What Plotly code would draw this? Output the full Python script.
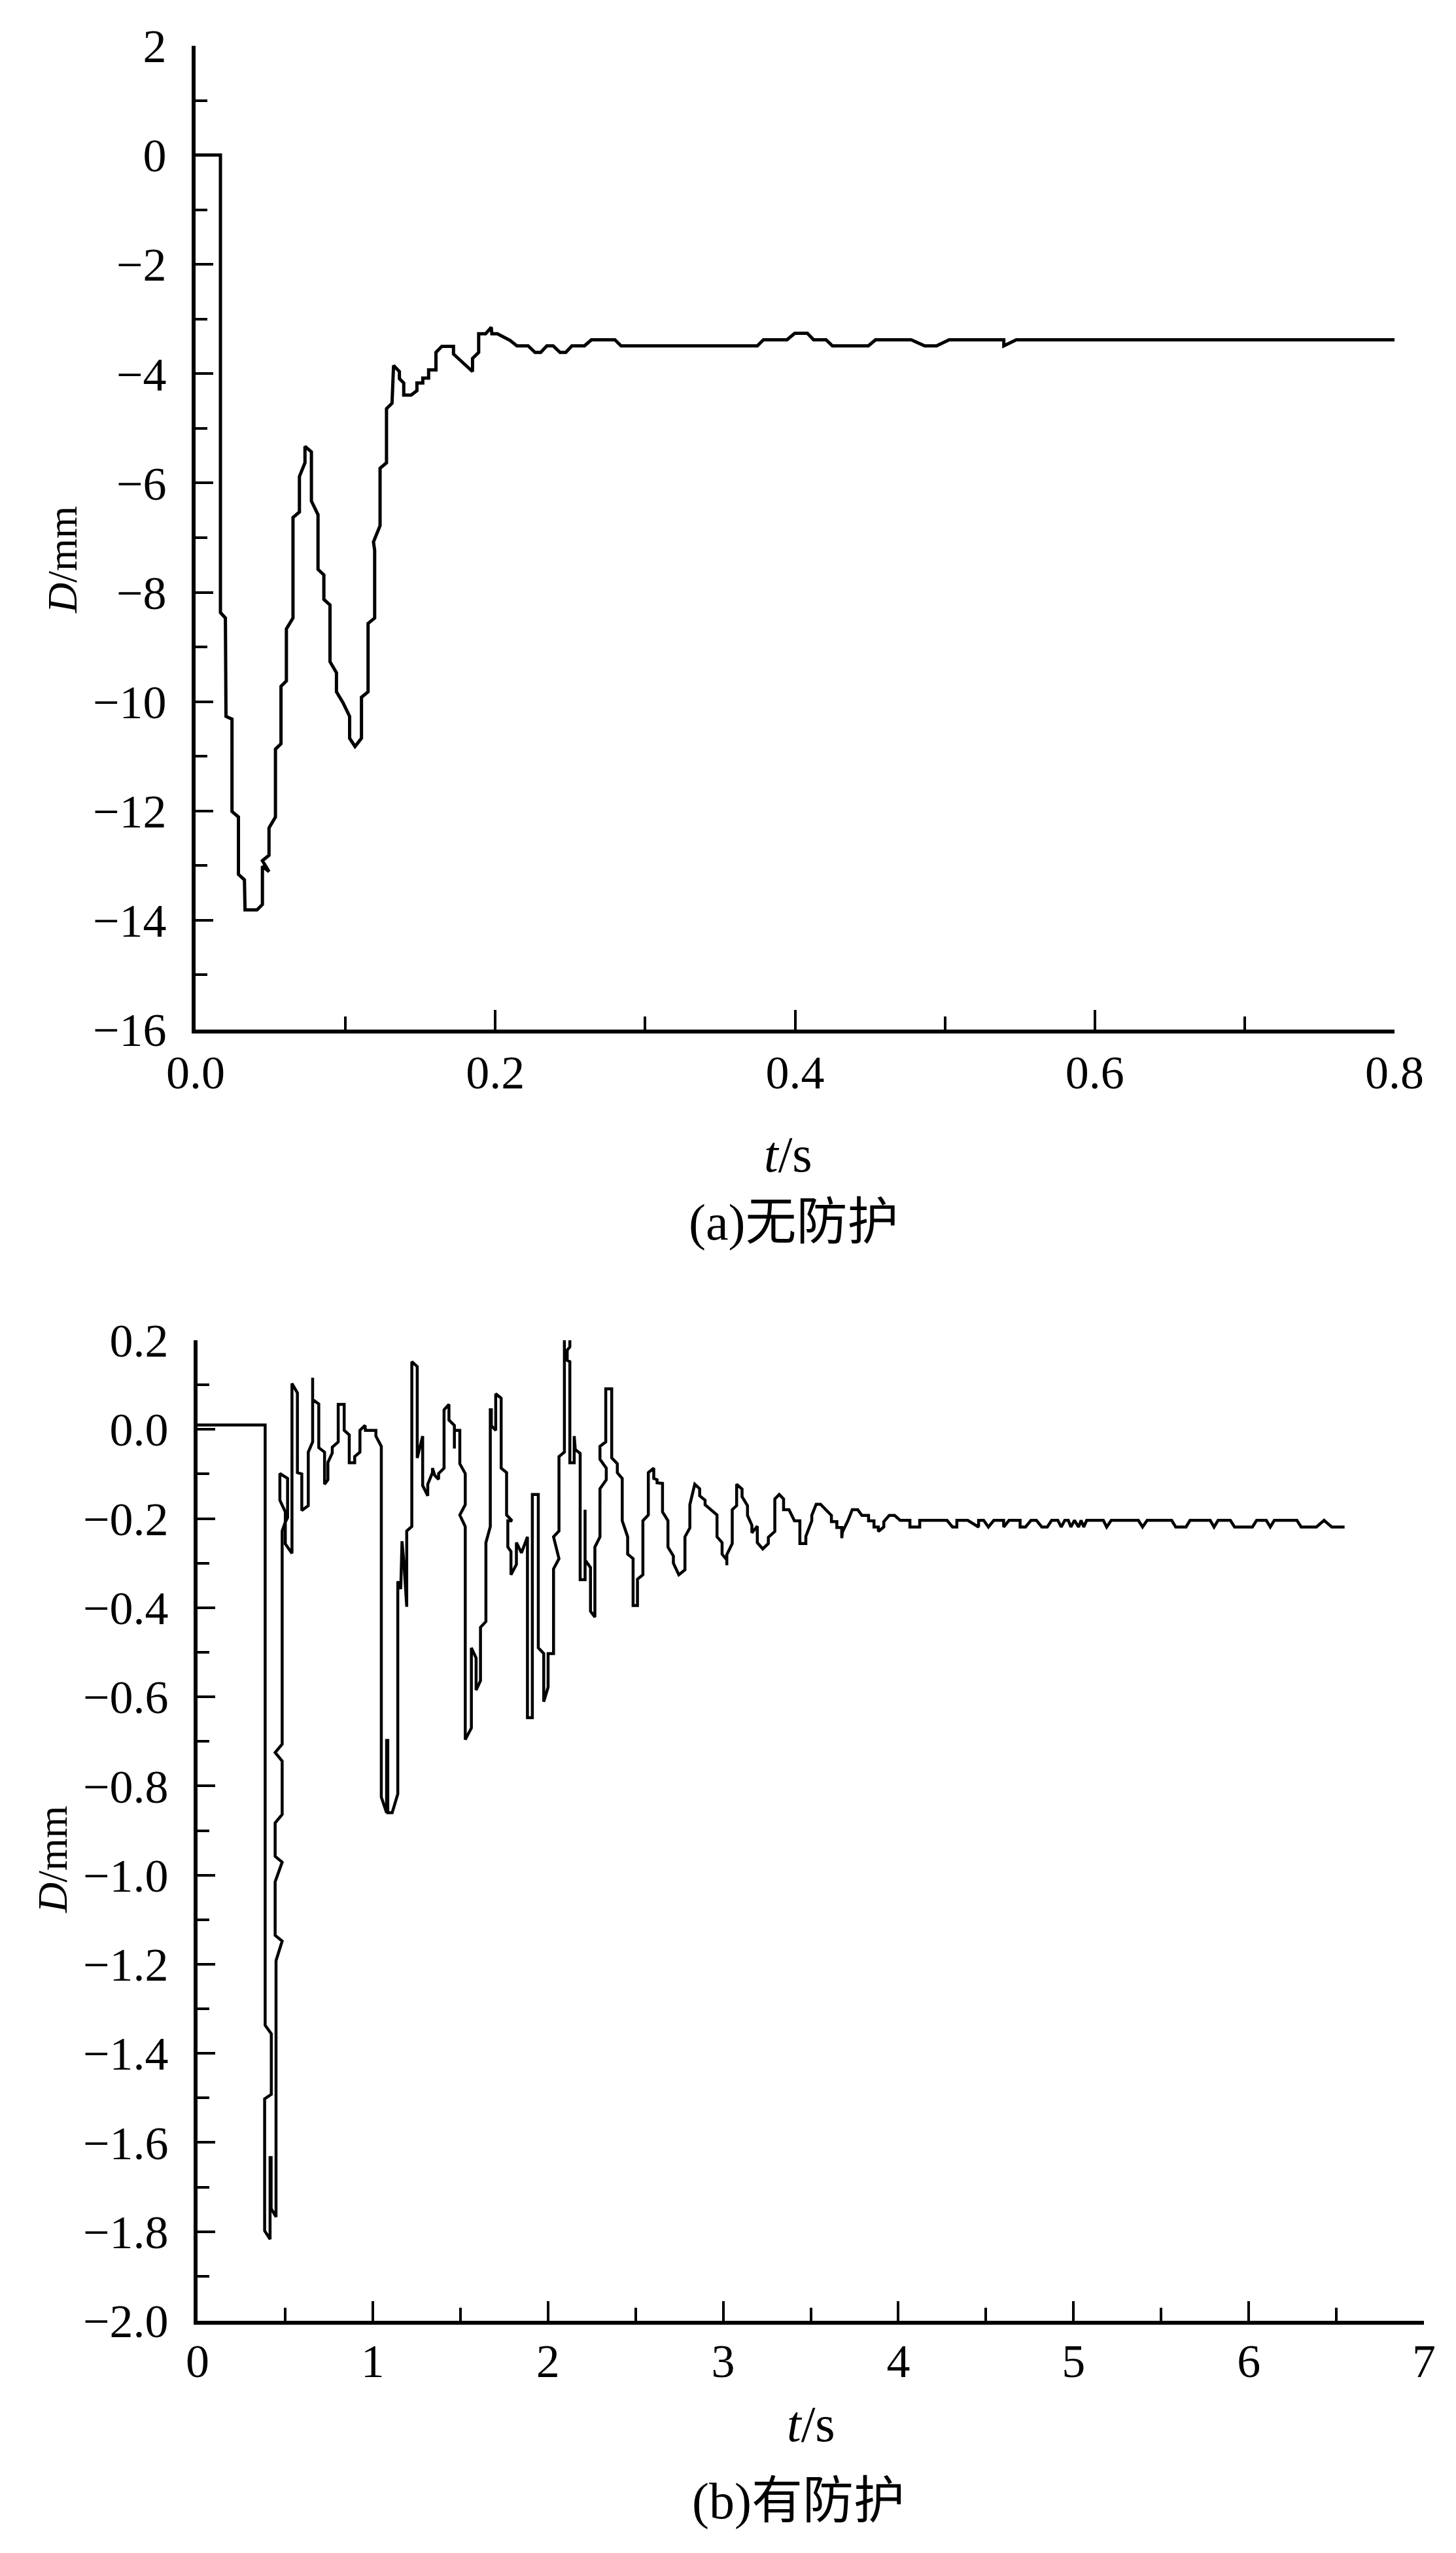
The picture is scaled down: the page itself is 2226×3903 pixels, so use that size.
import plotly.graph_objects as go

# (a) 无防护 - displacement vs time
t_a = [0.0000, 0.0166, 0.0166, 0.0199, 0.0203, 0.0243, 0.0243, 0.0286, 0.0286, 0.0326,
       0.0330, 0.0410, 0.0446, 0.0446, 0.0490, 0.0446, 0.0490, 0.0490, 0.0533, 0.0533,
       0.0570, 0.0570, 0.0606, 0.0606, 0.0650, 0.0650, 0.0693, 0.0693, 0.0730, 0.0730,
       0.0773, 0.0773, 0.0817, 0.0817, 0.0856, 0.0856, 0.0897, 0.0897, 0.0940, 0.0940,
       0.0984, 0.1028, 0.1028, 0.1064, 0.1107, 0.1107, 0.1151, 0.1151, 0.1195, 0.1195,
       0.1187, 0.1231, 0.1231, 0.1274, 0.1274, 0.1311, 0.1321, 0.1360, 0.1360, 0.1389,
       0.1389, 0.1438, 0.1477, 0.1477, 0.1516, 0.1516, 0.1555, 0.1555, 0.1604, 0.1604,
       0.1643, 0.1721, 0.1721, 0.1848, 0.1848, 0.1889, 0.1889, 0.1935, 0.1973, 0.1977,
       0.2014, 0.2098, 0.2144, 0.2219, 0.2265, 0.2303, 0.2344, 0.2386, 0.2432, 0.2470,
       0.2511, 0.2595, 0.2641, 0.2798, 0.2839, 0.3748, 0.3789, 0.3946, 0.3998, 0.4082,
       0.4124, 0.4207, 0.4249, 0.4489, 0.4537, 0.4775, 0.4865, 0.4944, 0.5028, 0.5393,
       0.5393, 0.5476, 0.8034]
d_a = [0.00, 0.00, -8.37, -8.47, -10.27, -10.32, -12.01, -12.11, -13.16, -13.26,
       -13.81, -13.81, -13.71, -13.01, -13.11, -12.91, -12.81, -12.31, -12.11, -10.87,
       -10.77, -9.72, -9.62, -8.67, -8.47, -6.63, -6.53, -5.88, -5.63, -5.33,
       -5.43, -6.33, -6.58, -7.58, -7.68, -8.13, -8.23, -9.27, -9.47, -9.82,
       -10.02, -10.27, -10.67, -10.82, -10.67, -9.92, -9.82, -8.57, -8.47, -7.23,
       -7.08, -6.78, -5.73, -5.63, -4.64, -4.54, -3.85, -3.96, -4.09, -4.17,
       -4.39, -4.39, -4.31, -4.17, -4.17, -4.08, -4.08, -3.93, -3.93, -3.61,
       -3.50, -3.50, -3.64, -3.96, -3.72, -3.61, -3.27, -3.27, -3.15, -3.27,
       -3.27, -3.39, -3.49, -3.49, -3.61, -3.61, -3.49, -3.49, -3.61, -3.61,
       -3.49, -3.49, -3.38, -3.38, -3.49, -3.49, -3.38, -3.38, -3.26, -3.26,
       -3.38, -3.38, -3.49, -3.49, -3.38, -3.38, -3.49, -3.49, -3.38, -3.38,
       -3.49, -3.38, -3.38]

# (b) 有防护
t_b = [0.000, 0.386, 0.386, 0.421, 0.421, 0.383, 0.383, 0.414, 0.414, 0.420,
       0.420, 0.448, 0.448, 0.483, 0.443, 0.443, 0.483, 0.443, 0.443, 0.483,
       0.483, 0.443, 0.483, 0.483, 0.501, 0.514, 0.514, 0.470, 0.470, 0.501,
       0.501, 0.539, 0.539, 0.570, 0.570, 0.595, 0.595, 0.632, 0.632, 0.657,
       0.657, 0.657, 0.692, 0.692, 0.725, 0.725, 0.744, 0.744, 0.769, 0.769,
       0.803, 0.803, 0.837, 0.837, 0.866, 0.866, 0.897, 0.897, 0.927, 0.927,
       0.956, 0.958, 1.018, 1.018, 1.049, 1.049, 1.079, 1.079, 1.086, 1.086,
       1.111, 1.143, 1.143, 1.160, 1.167, 1.178, 1.194, 1.194, 1.223, 1.223,
       1.254, 1.254, 1.285, 1.285, 1.314, 1.314, 1.341, 1.341, 1.354, 1.376,
       1.376, 1.407, 1.407, 1.435, 1.435, 1.466, 1.466, 1.466, 1.497, 1.497,
       1.528, 1.528, 1.497, 1.528, 1.528, 1.563, 1.563, 1.590, 1.590, 1.615,
       1.615, 1.646, 1.646, 1.671, 1.671, 1.677, 1.677, 1.702, 1.702, 1.733,
       1.733, 1.764, 1.764, 1.795, 1.771, 1.771, 1.789, 1.789, 1.820, 1.820,
       1.849, 1.883, 1.883, 1.911, 1.911, 1.945, 1.945, 1.976, 1.976, 2.001,
       2.001, 2.032, 2.032, 2.063, 2.032, 2.063, 2.063, 2.094, 2.094, 2.125,
       2.125, 2.110, 2.110, 2.125, 2.125, 2.150, 2.150, 2.156, 2.184, 2.184,
       2.212, 2.212, 2.212, 2.243, 2.243, 2.268, 2.268, 2.297, 2.297, 2.333,
       2.333, 2.297, 2.297, 2.330, 2.330, 2.364, 2.364, 2.396, 2.396, 2.424,
       2.424, 2.455, 2.455, 2.486, 2.486, 2.511, 2.511, 2.542, 2.542, 2.573,
       2.573, 2.604, 2.604, 2.623, 2.623, 2.654, 2.654, 2.685, 2.685, 2.716,
       2.716, 2.747, 2.782, 2.782, 2.810, 2.810, 2.838, 2.866, 2.866, 2.897,
       2.897, 2.965, 2.965, 2.994, 2.994, 3.021, 3.021, 3.021, 3.052, 3.052,
       3.077, 3.077, 3.108, 3.108, 3.139, 3.139, 3.164, 3.164, 3.195, 3.195,
       3.226, 3.258, 3.258, 3.295, 3.295, 3.320, 3.345, 3.345, 3.376, 3.407,
       3.438, 3.438, 3.472, 3.472, 3.506, 3.506, 3.531, 3.556, 3.618, 3.618,
       3.649, 3.649, 3.677, 3.677, 3.681, 3.712, 3.737, 3.768, 3.792, 3.830,
       3.830, 3.861, 3.861, 3.886, 3.886, 3.917, 3.917, 3.948, 3.979, 4.010,
       4.066, 4.066, 4.122, 4.122, 4.278, 4.309, 4.334, 4.334, 4.396, 4.458,
       4.458, 4.487, 4.514, 4.545, 4.601, 4.601, 4.632, 4.695, 4.695, 4.726,
       4.757, 4.788, 4.819, 4.850, 4.875, 4.910, 4.930, 4.950, 4.970, 4.985,
       5.005, 5.029, 5.043, 5.058, 5.075, 5.170, 5.189, 5.215, 5.370, 5.394,
       5.420, 5.560, 5.583, 5.642, 5.665, 5.780, 5.802, 5.825, 5.895, 5.919,
       6.021, 6.045, 6.100, 6.123, 6.146, 6.275, 6.299, 6.386, 6.430, 6.474,
       6.547]
d_b = [0.010, 0.010, -1.337, -1.356, -1.492, -1.502, -1.798, -1.817, -1.634, -1.634,
       -1.748, -1.767, -1.192, -1.148, -1.135, -1.015, -0.971, -0.958, -0.883, -0.864,
       -0.744, -0.725, -0.706, -0.228, -0.208, -0.198, -0.110, -0.099, -0.159, -0.185,
       -0.257, -0.278, 0.103, 0.082, -0.097, -0.100, -0.182, -0.171, -0.051, -0.028,
       0.116, 0.067, 0.057, -0.041, -0.051, -0.123, -0.113, -0.074, -0.053, -0.040,
       -0.028, 0.056, 0.056, -0.002, -0.012, -0.075, -0.075, -0.061, -0.051, -0.002,
       0.009, -0.002, -0.002, -0.015, -0.038, -0.825, -0.860, -0.698, -0.698, -0.860,
       -0.860, -0.818, -0.341, -0.358, -0.251, -0.300, -0.398, -0.228, -0.218, 0.152,
       0.141, -0.064, -0.015, -0.126, -0.149, -0.123, -0.097, -0.087, -0.103, -0.112,
       -0.099, -0.087, 0.044, 0.056, 0.021, 0.009, -0.043, -0.002, -0.002, -0.077,
       -0.099, -0.169, -0.192, -0.218, -0.696, -0.670, -0.490, -0.513, -0.585, -0.564,
       -0.444, -0.431, -0.254, -0.218, 0.044, 0.044, 0.008, -0.002, 0.080, 0.070,
       -0.087, -0.097, -0.192, -0.205, -0.205, -0.264, -0.274, -0.326, -0.303, -0.254,
       -0.277, -0.241, -0.647, -0.647, -0.146, -0.146, -0.490, -0.503, -0.611, -0.578,
       -0.503, -0.503, -0.313, -0.290, -0.241, -0.228, -0.061, -0.051, 0.211, 0.201,
       0.185, 0.178, 0.155, 0.152, -0.075, -0.075, -0.015, -0.045, -0.054, -0.337,
       -0.337, -0.180, -0.293, -0.310, -0.408, -0.421, -0.264, -0.241, -0.133, -0.113,
       -0.087, -0.067, -0.038, -0.028, 0.091, 0.091, -0.064, -0.077, -0.097, -0.110,
       -0.205, -0.241, -0.280, -0.290, -0.395, -0.395, -0.336, -0.326, -0.205, -0.192,
       -0.097, -0.087, -0.110, -0.113, -0.120, -0.121, -0.185, -0.205, -0.264, -0.284,
       -0.300, -0.326, -0.315, -0.241, -0.221, -0.169, -0.123, -0.133, -0.149, -0.159,
       -0.169, -0.192, -0.241, -0.254, -0.280, -0.293, -0.305, -0.281, -0.256, -0.180,
       -0.171, -0.123, -0.134, -0.151, -0.171, -0.193, -0.215, -0.232, -0.217, -0.254,
       -0.268, -0.256, -0.242, -0.229, -0.156, -0.146, -0.156, -0.180, -0.180, -0.205,
       -0.205, -0.256, -0.256, -0.240, -0.205, -0.193, -0.168, -0.168, -0.193, -0.207,
       -0.207, -0.220, -0.220, -0.244, -0.230, -0.205, -0.180, -0.180, -0.193, -0.193,
       -0.205, -0.205, -0.219, -0.219, -0.229, -0.219, -0.207, -0.193, -0.193, -0.204,
       -0.204, -0.219, -0.219, -0.204, -0.204, -0.219, -0.219, -0.204, -0.204, -0.219,
       -0.204, -0.204, -0.219, -0.204, -0.204, -0.219, -0.204, -0.204, -0.219, -0.219,
       -0.204, -0.204, -0.219, -0.219, -0.204, -0.204, -0.219, -0.204, -0.204, -0.219,
       -0.204, -0.219, -0.204, -0.219, -0.204, -0.204, -0.219, -0.204, -0.204, -0.219,
       -0.204, -0.204, -0.219, -0.219, -0.204, -0.204, -0.219, -0.204, -0.204, -0.219,
       -0.219, -0.204, -0.204, -0.219, -0.204, -0.204, -0.219, -0.219, -0.204, -0.219,
       -0.219]

W, H = 2226, 3903
FONT = "Liberation Serif, Times New Roman, Noto Sans CJK SC, serif"
FS = 78
TICK_FS = 72


def px_x(p):
    return p / W


def px_y(p):
    return 1 - p / H


def axis_style(**kw):
    base = dict(
        showline=True, linecolor="black", linewidth=6, mirror=False,
        showgrid=False, zeroline=False, automargin=False,
        ticks="inside", ticklen=30, tickwidth=4, tickcolor="black",
        tickfont=dict(family=FONT, size=TICK_FS, color="black"),
    )
    base.update(kw)
    return base


fig = go.Figure()
fig.add_trace(go.Scatter(x=t_a, y=d_a, mode="lines",
                         line=dict(color="black", width=5),
                         xaxis="x", yaxis="y", showlegend=False))
fig.add_trace(go.Scatter(x=t_b, y=d_b, mode="lines",
                         line=dict(color="black", width=4.5),
                         xaxis="x2", yaxis="y2", showlegend=False))

fig.update_layout(
    width=W, height=H,
    margin=dict(l=0, r=0, t=0, b=0),
    paper_bgcolor="white", plot_bgcolor="white",
    font=dict(family=FONT, size=FS, color="black"),
    xaxis=axis_style(domain=[px_x(291), px_x(2124)], range=[0, 0.8],
                     tick0=0, dtick=0.2, tickformat=".1f", anchor="y",
                     ticklabelstandoff=-2,
                     minor=dict(ticks="inside", ticklen=20, tickwidth=4,
                                tickcolor="black", dtick=0.1)),
    yaxis=axis_style(domain=[px_y(1566), px_y(62)], range=[-16, 2],
                     tick0=0, dtick=2, anchor="x", ticklabelstandoff=24,
                     ticklen=27,
                     minor=dict(ticks="inside", ticklen=18, tickwidth=4,
                                tickcolor="black", dtick=1)),
    xaxis2=axis_style(domain=[px_x(294), px_x(2169)], range=[0, 7],
                      tick0=0, dtick=1, anchor="y2", ticklabelstandoff=-6,
                      minor=dict(ticks="inside", ticklen=20, tickwidth=4,
                                 tickcolor="black", dtick=0.5)),
    yaxis2=axis_style(domain=[px_y(3540), px_y(2041)], range=[-2.0, 0.2],
                      tick0=0, dtick=0.2, tickformat=".1f", anchor="x2",
                      ticklabelstandoff=24, ticklen=27,
                      minor=dict(ticks="inside", ticklen=18, tickwidth=4,
                                 tickcolor="black", dtick=0.1)),
)

labels = [
    ("<i>D</i>/mm", px_x(87), px_y(848), -90, 64),
    ("<i>D</i>/mm", px_x(72), px_y(2835), -90, 64),
    ("<i>t</i>/s", px_x(1197), px_y(1756), 0, FS),
    ("<i>t</i>/s", px_x(1232), px_y(3697), 0, FS),
    ("(a)无防护", px_x(1205), px_y(1860), 0, FS),
    ("(b)有防护", px_x(1212), px_y(3815), 0, FS),
]
for text, x, y, ang, size in labels:
    fig.add_annotation(text=text, x=x, y=y, xref="paper", yref="paper",
                       xanchor="center", yanchor="middle", showarrow=False,
                       textangle=ang, font=dict(family=FONT, size=size, color="black"))

fig.write_html("out.html")
